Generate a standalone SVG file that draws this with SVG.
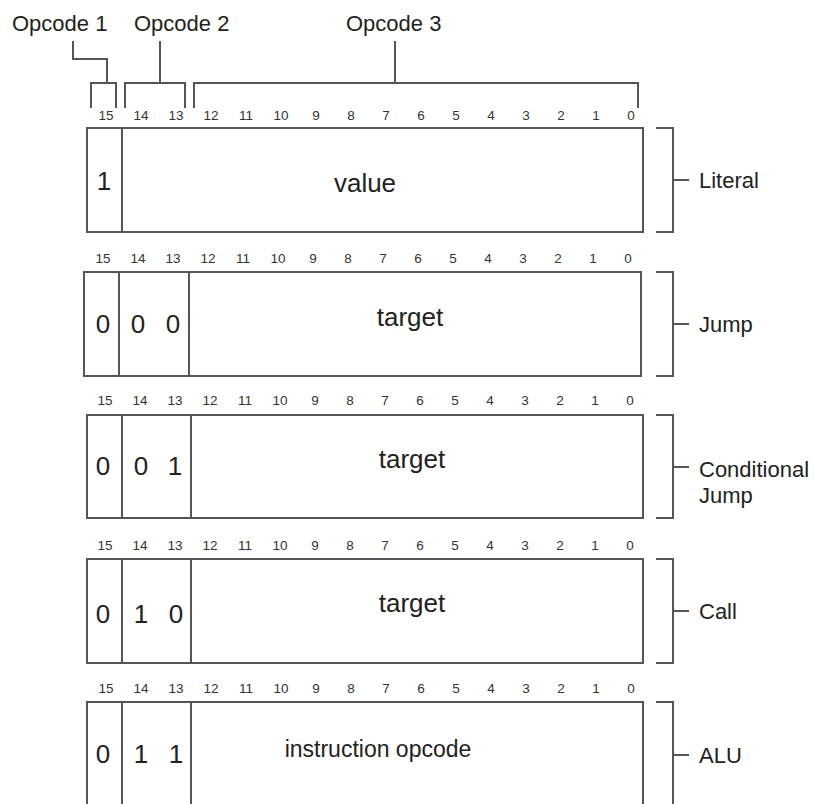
<svg xmlns="http://www.w3.org/2000/svg" width="814" height="804" viewBox="0 0 814 804">
  <style>
    .ln { fill: none; stroke: #555; stroke-width: 2; }
    .box { fill: #fff; stroke: #555; stroke-width: 2; }
    .lbl { font-family: "Liberation Sans", Arial, sans-serif; font-size: 22px; fill: #222; }
    .bit { font-family: "Liberation Sans", Arial, sans-serif; font-size: 13.5px; fill: #333; text-anchor: middle; }
    .fld { font-family: "Liberation Sans", Arial, sans-serif; font-size: 26px; fill: #222; text-anchor: middle; }
    .fld-sm { font-family: "Liberation Sans", Arial, sans-serif; font-size: 23px; fill: #222; text-anchor: middle; }
  </style>
  <defs>
    <!-- bit index row 15..0, 35px pitch -->
    <g id="bits">
      <text class="bit" x="0">15</text><text class="bit" x="35">14</text><text class="bit" x="70">13</text>
      <text class="bit" x="105">12</text><text class="bit" x="140">11</text><text class="bit" x="175">10</text>
      <text class="bit" x="210">9</text><text class="bit" x="245">8</text><text class="bit" x="280">7</text>
      <text class="bit" x="315">6</text><text class="bit" x="350">5</text><text class="bit" x="385">4</text>
      <text class="bit" x="420">3</text><text class="bit" x="455">2</text><text class="bit" x="490">1</text>
      <text class="bit" x="525">0</text>
    </g>
  </defs>
  <rect width="814" height="804" fill="#fff"/>

  <!-- opcode field labels -->
  <g id="opcode1"><text class="lbl" x="12" y="31">Opcode 1</text></g>
  <g id="opcode2"><text class="lbl" x="134" y="31">Opcode 2</text></g>
  <g id="opcode3"><text class="lbl" x="346" y="31">Opcode 3</text></g>

  <!-- instruction formats -->
  <g id="literal">
    <use href="#bits" x="106" y="120"/>
    <rect class="box" x="87" y="128" width="556" height="104"/>
    <line class="ln" x1="122" y1="128" x2="122" y2="232"/>
    <text class="fld" x="104" y="190">1</text>
    <text class="fld" x="365" y="192">value</text>
    <text class="lbl" x="699" y="188">Literal</text>
  </g>

  <g id="jump">
    <use href="#bits" x="103" y="263"/>
    <rect class="box" x="84" y="272" width="557" height="104"/>
    <line class="ln" x1="119" y1="272" x2="119" y2="376"/>
    <line class="ln" x1="189" y1="272" x2="189" y2="376"/>
    <text class="fld" x="103" y="333">0</text>
    <text class="fld" x="138" y="333">0</text>
    <text class="fld" x="173" y="333">0</text>
    <text class="fld" x="410" y="326">target</text>
    <text class="lbl" x="699" y="332">Jump</text>
  </g>

  <g id="conditional-jump">
    <use href="#bits" x="105" y="405"/>
    <rect class="box" x="87" y="415" width="556" height="103"/>
    <line class="ln" x1="122" y1="415" x2="122" y2="518"/>
    <line class="ln" x1="191" y1="415" x2="191" y2="518"/>
    <text class="fld" x="103" y="475">0</text>
    <text class="fld" x="141" y="475">0</text>
    <text class="fld" x="175" y="475">1</text>
    <text class="fld" x="412" y="468">target</text>
    <text class="lbl" x="699" y="477">Conditional</text>
    <text class="lbl" x="699" y="503">Jump</text>
  </g>

  <g id="call">
    <use href="#bits" x="105" y="550"/>
    <rect class="box" x="87" y="559" width="556" height="104"/>
    <line class="ln" x1="122" y1="559" x2="122" y2="663"/>
    <line class="ln" x1="191" y1="559" x2="191" y2="663"/>
    <text class="fld" x="103" y="623">0</text>
    <text class="fld" x="141" y="623">1</text>
    <text class="fld" x="176" y="623">0</text>
    <text class="fld" x="412" y="612">target</text>
    <text class="lbl" x="699" y="619">Call</text>
  </g>

  <g id="alu">
    <use href="#bits" x="106" y="693"/>
    <rect class="box" x="87" y="702" width="556" height="120"/>
    <line class="ln" x1="122" y1="702" x2="122" y2="820"/>
    <line class="ln" x1="191" y1="702" x2="191" y2="820"/>
    <text class="fld" x="103" y="763">0</text>
    <text class="fld" x="141" y="763">1</text>
    <text class="fld" x="176" y="763">1</text>
    <text class="fld-sm" x="378" y="757">instruction opcode</text>
    <text class="lbl" x="699" y="763">ALU</text>
  </g>

  <!-- brackets and leader lines -->
  <g id="connectors">
    <path class="ln" d="M73,41 V59 H107 V83"/>
    <path class="ln" d="M91,108 V83 H116 V108"/>
    <path class="ln" d="M160,41 V83"/>
    <path class="ln" d="M125,108 V83 H185 V108"/>
    <path class="ln" d="M395,41 V83"/>
    <path class="ln" d="M194,108 V83 H638 V108"/>

    <path class="ln" d="M656,128 H673 V232 H656 M673,180 H689"/>
    <path class="ln" d="M656,272 H673 V376 H656 M673,324 H689"/>
    <path class="ln" d="M656,415 H673 V518 H656 M673,467 H689"/>
    <path class="ln" d="M656,559 H673 V663 H656 M673,611 H689"/>
    <path class="ln" d="M656,702 H673 V820 M673,755 H689"/>
  </g>
</svg>
